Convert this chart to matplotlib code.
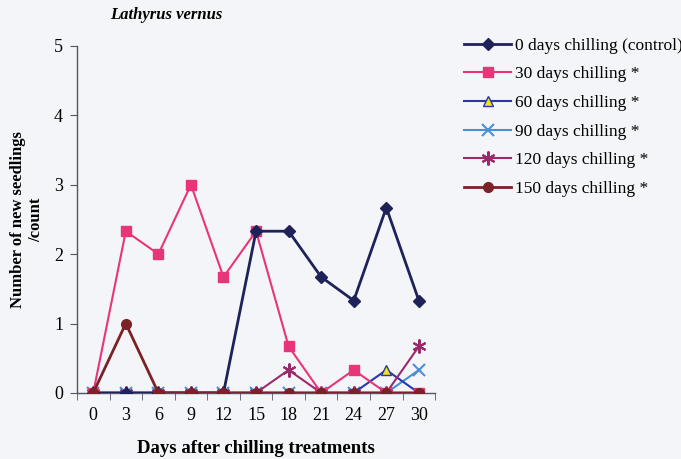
import matplotlib.pyplot as plt
import numpy as np

plt.rcParams['font.family'] = 'Liberation Serif'

days = [0, 3, 6, 9, 12, 15, 18, 21, 24, 27, 30]

control_0 = [0, 0, 0, 0, 0, 2.33, 2.33, 1.67, 1.33, 2.67, 1.33]
chill_30 = [0, 2.33, 2.0, 3.0, 1.67, 2.33, 0.67, 0, 0.33, 0, 0]
chill_60 = [0, 0, 0, 0, 0, 0, 0, 0, 0, 0.33, 0]
chill_90 = [0, 0, 0, 0, 0, 0, 0, 0, 0, 0, 0.33]
chill_120 = [0, 0, 0, 0, 0, 0, 0.33, 0, 0, 0, 0.67]
chill_150 = [0, 1.0, 0, 0, 0, 0, 0, 0, 0, 0, 0]

labels = ['0 days chilling (control)', '30 days chilling *', '60 days chilling *',
          '90 days chilling *', '120 days chilling *', '150 days chilling *']

bg = '#f4f5f8'
fig = plt.figure(figsize=(6.81, 4.59), dpi=100, facecolor=bg)
ax = fig.add_axes([0.113, 0.144, 0.526, 0.756], facecolor=bg)

# drawn back to front so the control / 30-day lines sit on top
ax.plot(days, chill_90, color='#4a8fd8', marker='x', ms=8, mew=1.5, lw=1.5, label=labels[3], zorder=3)
ax.plot(days, chill_60, color='#2838a8', marker='^', ms=7, mfc='#f0e020', mec='#2838a8',
        lw=1.5, label=labels[2], zorder=3)
ax.plot(days, chill_120, color='#9a2a6a', marker=(6, 2, 0), ms=10, mew=1.5, lw=1.5, label=labels[4], zorder=4)
ax.plot(days, chill_30, color='#e8357a', marker='s', ms=7, lw=1.5, label=labels[1], zorder=5)
ax.plot(days, control_0, color='#1e2258', marker='D', ms=6, lw=2, label=labels[0], zorder=6)
ax.plot(days, chill_150, color='#7a2228', marker='o', ms=7, lw=2, label=labels[5], zorder=7)

ax.set_xlim(-1.5, 31.5)
ax.set_ylim(0, 5)
ax.set_xticks(days)
ax.set_xticks(np.arange(-1.5, 32, 3), minor=True)
ax.set_yticks(range(6))
ax.tick_params(axis='x', which='major', length=0, pad=10, labelsize=13)
ax.tick_params(axis='x', which='minor', length=5, direction='out', color='#555566')
ax.tick_params(axis='y', length=5, direction='out', labelsize=13, pad=5, color='#555566')

for s in ['top', 'right']:
    ax.spines[s].set_visible(False)
for s in ['left', 'bottom']:
    ax.spines[s].set_color('#555566')
    ax.spines[s].set_linewidth(1)

ax.set_xlabel('Days after chilling treatments', fontsize=13.5, fontweight='bold', labelpad=12)
ax.set_ylabel('Number of new seedlings\n/count', fontsize=12, fontweight='bold', labelpad=7)

fig.text(0.161, 0.968, 'Lathyrus vernus', fontsize=12, fontweight='bold', style='italic',
         va='center', ha='left')

handles, labs = ax.get_legend_handles_labels()
order = [labs.index(l) for l in labels]
leg = fig.legend([handles[i] for i in order], [labs[i] for i in order],
                 loc='upper left', bbox_to_anchor=(0.682, 0.918), frameon=False,
                 fontsize=12.5, handlelength=2.7, labelspacing=0.72, handletextpad=0.2,
                 borderpad=0, borderaxespad=0)

fig.savefig('out.png', dpi=100, facecolor=bg)
